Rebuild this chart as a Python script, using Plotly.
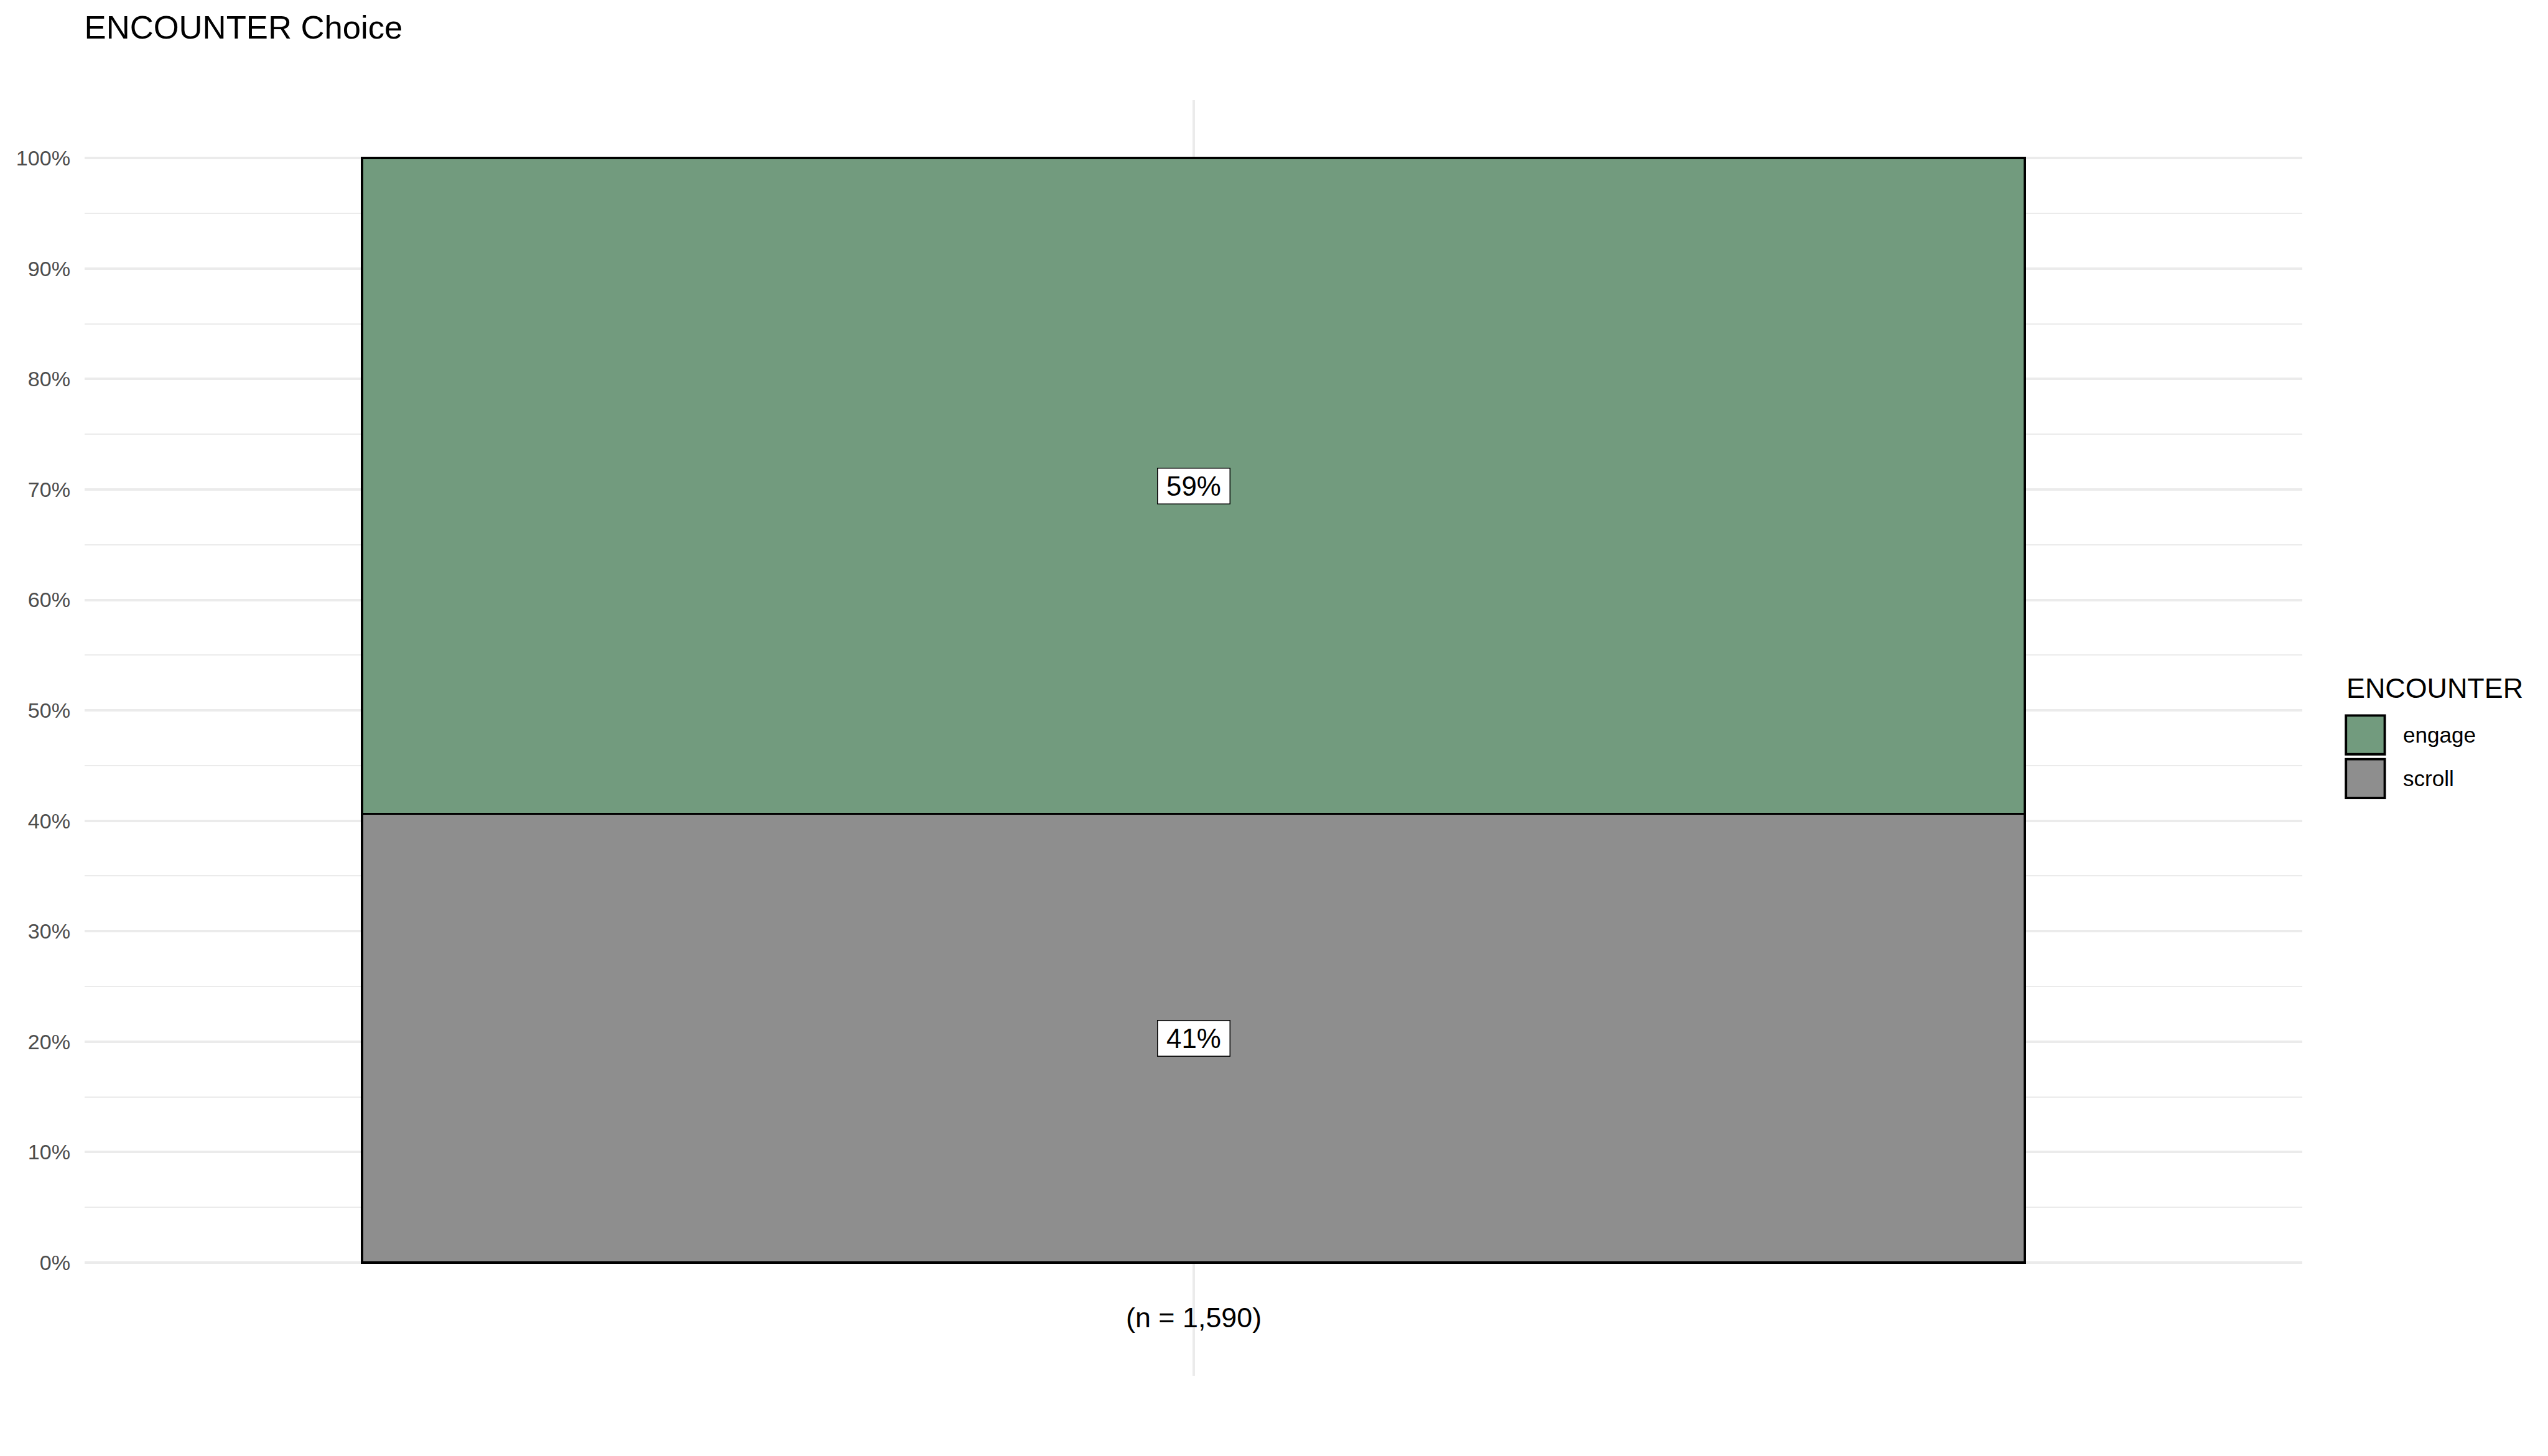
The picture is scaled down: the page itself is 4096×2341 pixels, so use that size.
import plotly.graph_objects as go

# ---- data ----
categories = ["engage", "scroll"]
counts = [944, 646]
colors = ["#729B7E", "#8E8E8E"]
y_tick_vals = [0.0, 0.1, 0.2, 0.3, 0.4, 0.5, 0.6, 0.7, 0.8, 0.9, 1.0]
y_tick_text = ["0%", "10%", "20%", "30%", "40%", "50%", "60%", "70%", "80%", "90%", "100%"]
y_minor_vals = [0.05, 0.15, 0.25, 0.35, 0.45, 0.55, 0.65, 0.75, 0.85, 0.95]
title_text = "ENCOUNTER Choice"
legend_title = "ENCOUNTER"

S = 0.975
W, H = 4096, 2341
FONT = "Liberation Sans, Arial, Helvetica, sans-serif"

n_total = sum(counts)
shares = [c / n_total for c in counts]

# plot panel in pixels (scaled from reference)
pl, pr = 139 * S, 3796 * S
pt, pb = 165.5 * S, 2268.6 * S


def px_to_paper_x(px):
    return (px - pl) / (pr - pl)


def px_to_paper_y(py):
    return (pb - py) / (pb - pt)


fig = go.Figure()

# stacking: scroll at bottom, engage on top
order = [1, 0]
base = 0.0
annotations = []
for i in order:
    fig.add_trace(go.Bar(
        x=[1], y=[shares[i]], name=categories[i], width=0.9,
        marker=dict(color=colors[i], line=dict(color="black", width=4 * S)),
        showlegend=False, hoverinfo="skip",
    ))
    mid = base + shares[i] / 2
    annotations.append(dict(
        x=1, y=mid, xref="x", yref="y",
        text=f"{round(shares[i] * 100)}%", showarrow=False,
        font=dict(family=FONT, size=45 * S, color="black"),
        bgcolor="white", bordercolor="black", borderwidth=1.5,
        borderpad=0, width=121 * S - 3, height=61 * S - 3,
        xanchor="center", yanchor="middle",
    ))
    base += shares[i]

# n label below the bar
annotations.append(dict(
    x=1, y=-0.05, xref="x", yref="y", text=f"(n = {n_total:,})", showarrow=False,
    font=dict(family=FONT, size=46 * S, color="black"), xanchor="center", yanchor="middle",
))

# manual legend (large keys as in the reference)
shapes = []
lx0, lx1 = 3868 * S, 3932 * S
annotations.append(dict(
    x=px_to_paper_x(3867 * S), y=px_to_paper_y(1163 * S), xref="paper", yref="paper",
    text=legend_title, showarrow=False, xanchor="left", yanchor="bottom",
    font=dict(family=FONT, size=46 * S, color="black"),
))

for k, cat in enumerate(categories):
    top = (1180 + 72 * k) * S
    bot = (1244 + 72 * k) * S
    shapes.append(dict(
        type="rect", xref="paper", yref="paper",
        x0=px_to_paper_x(lx0), x1=px_to_paper_x(lx1),
        y0=px_to_paper_y(bot), y1=px_to_paper_y(top),
        fillcolor=colors[k], line=dict(color="black", width=4 * S),
    ))
    annotations.append(dict(
        x=px_to_paper_x(3960 * S), y=px_to_paper_y((top + bot) / 2),
        xref="paper", yref="paper", text=cat, showarrow=False,
        xanchor="left", yanchor="middle",
        font=dict(family=FONT, size=36 * S, color="black"),
    ))

fig.update_layout(
    width=W, height=H,
    margin=dict(l=pl, r=W - pr, t=pt, b=H - pb, pad=0, autoexpand=False),
    barmode="stack",
    paper_bgcolor="white", plot_bgcolor="white",
    showlegend=False,
    title=dict(
        text=title_text, x=139 * S / W, xref="container", xanchor="left",
        y=1 - 64 * S / H, yref="container", yanchor="bottom",
        font=dict(family=FONT, size=54 * S, color="black"),
        pad=dict(t=0, b=0, l=0, r=0),
    ),
    xaxis=dict(
        range=[0.4, 1.6], tickvals=[1], ticktext=[""], showticklabels=False,
        showgrid=True, gridcolor="#EBEBEB", gridwidth=4.4,
        zeroline=False, showline=False, ticks="",
    ),
    yaxis=dict(
        range=[-0.1025, 1.0525], tickvals=y_tick_vals, ticktext=y_tick_text,
        showgrid=True, gridcolor="#EBEBEB", gridwidth=4.4,
        minor=dict(tickvals=y_minor_vals, showgrid=True, gridcolor="#EBEBEB",
                   gridwidth=2.2, ticks=""),
        zeroline=False, showline=False, ticks="",
        tickfont=dict(family=FONT, size=35 * S, color="#4D4D4D"),
        ticklabelstandoff=22,
    ),
    annotations=annotations,
    shapes=shapes,
)

fig.write_html("out.html")
